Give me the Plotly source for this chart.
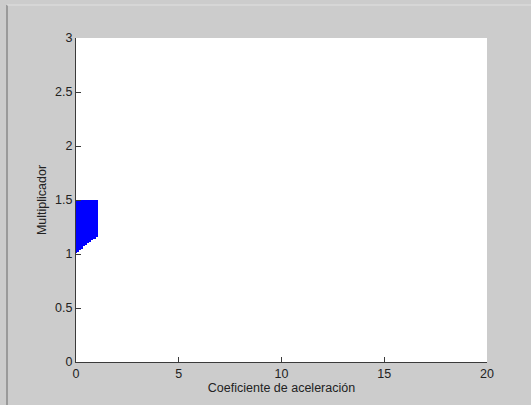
import plotly.graph_objects as go

# Coefficient samples and the multiplier band (lower edge -> upper edge)
coef = [0.0, 0.1, 0.2, 0.3, 0.4, 0.5, 0.6, 0.7, 0.8, 0.9, 1.0]
mult_low = [1.01, 1.02, 1.04, 1.05, 1.07, 1.08, 1.10, 1.11, 1.13, 1.14, 1.16]
mult_high = [1.5] * len(coef)

x_ticks = [0, 5, 10, 15, 20]
y_ticks = [0, 0.5, 1, 1.5, 2, 2.5, 3]
y_tick_text = ["0", "0.5", "1", "1.5", "2", "2.5", "3"]

FONT = dict(family="Liberation Sans, Arial", size=12.5, color="#222222")

fig = go.Figure()
fig.add_trace(go.Bar(
    x=coef,
    y=[h - l for h, l in zip(mult_high, mult_low)],
    base=mult_low,
    width=0.1,
    marker=dict(color="#0000ff", line=dict(width=0)),
    showlegend=False,
))

axis_common = dict(
    showgrid=False,
    zeroline=False,
    showline=True,
    linecolor="#3a3a3a",
    linewidth=1,
    ticks="inside",
    ticklen=5,
    tickcolor="#3a3a3a",
    tickfont=FONT,
    mirror=False,
    automargin=False,
)

fig.update_layout(
    width=531,
    height=405,
    margin=dict(l=76, r=44, t=38, b=43),
    paper_bgcolor="#cccccc",
    plot_bgcolor="#ffffff",
    bargap=0,
    xaxis=dict(
        range=[0, 20],
        tickvals=x_ticks,
        title=dict(text="Coeficiente de aceleración", standoff=3, font=FONT),
        **axis_common,
    ),
    yaxis=dict(
        range=[0, 3],
        tickvals=y_ticks,
        ticktext=y_tick_text,
        title=dict(text="Multiplicador", standoff=5, font=FONT),
        **axis_common,
    ),
    shapes=[
        # window frame edges
        dict(type="line", xref="paper", yref="paper",
             x0=-69 / 411, x1=-69 / 411, y0=-43 / 324, y1=(324 + 33) / 324,
             line=dict(color="#8a8a8a", width=1.5)),
        dict(type="line", xref="paper", yref="paper",
             x0=-69 / 411, x1=(411 + 44) / 411, y0=(324 + 33) / 324, y1=(324 + 33) / 324,
             line=dict(color="#e0e0e0", width=1)),
    ],
)

fig.write_html("out.html")
